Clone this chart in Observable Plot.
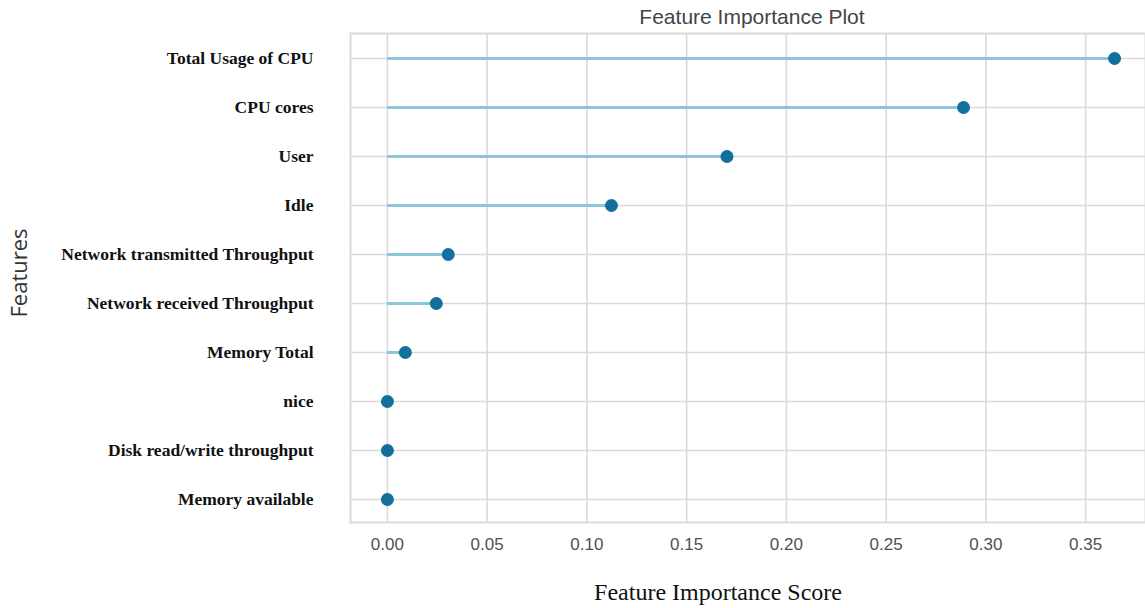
<!DOCTYPE html>
<html>
<head>
<meta charset="utf-8">
<script src="https://cdn.jsdelivr.net/npm/d3@7"></script>
<script src="https://cdn.jsdelivr.net/npm/@observablehq/plot@0.6"></script>
<style>
  html, body { margin: 0; padding: 0; background: #fff; }
  #chart svg { display: block; }
</style>
</head>
<body>
<div id="chart"></div>
<script>
const features = [
  "Total Usage of CPU",
  "CPU cores",
  "User",
  "Idle",
  "Network transmitted Throughput",
  "Network received Throughput",
  "Memory Total",
  "nice",
  "Disk read/write throughput",
  "Memory available"
];
const scores = [0.3645, 0.2888, 0.1702, 0.1123, 0.0305, 0.0245, 0.0090, 0.0, 0.0, 0.0];
const xTicks = [0, 0.05, 0.10, 0.15, 0.20, 0.25, 0.30, 0.35];
const titleText = "Feature Importance Plot";
const xLabelText = "Feature Importance Score";
const yLabelText = "Features";

const data = features.map((f, i) => ({feature: f, value: scores[i]}));

const gridColor = "#dadada";

const chart = Plot.plot({
  width: 1145,
  height: 608,
  marginLeft: 350,
  marginRight: 0,
  marginTop: 33,
  marginBottom: 86,
  style: {background: "#fff", overflow: "visible"},
  x: {domain: [-0.0185, 0.38], ticks: xTicks},
  y: {type: "point", domain: features, range: [57, 500], padding: 0},
  marks: [
    Plot.gridX(xTicks, {stroke: gridColor, strokeOpacity: 1, strokeWidth: 1.6}),
    Plot.gridY(features, {stroke: gridColor, strokeOpacity: 1, strokeWidth: 1.6}),
    Plot.frame({stroke: gridColor, strokeWidth: 2}),
    Plot.axisX(xTicks, {
      tickSize: 0, tickPadding: 15, tickFormat: d3.format(".2f"),
      fontFamily: "Liberation Sans", fontSize: 17, fill: "#505050", label: null
    }),
    Plot.axisY(features, {
      tickSize: 0, tickPadding: 37,
      fontFamily: "Liberation Serif", fontWeight: "bold", fontSize: 17.5, fill: "#111", label: null
    }),
    Plot.ruleY(data, {y: "feature", x1: 0, x2: "value", stroke: "#8cc6dd", strokeWidth: 3}),
    Plot.dot(data, {y: "feature", x: "value", r: 6.5, fill: "#13709c", stroke: null}),
    Plot.text([titleText], {
      frameAnchor: "top", dy: -16, dx: 4, text: d => d, lineAnchor: "middle", textAnchor: "middle",
      fontFamily: "Liberation Sans", fontSize: 21, fill: "#444"
    }),
    Plot.text([xLabelText], {
      frameAnchor: "bottom", dy: 70, dx: -30, text: d => d, lineAnchor: "middle", textAnchor: "middle",
      fontFamily: "Liberation Serif", fontSize: 24, fill: "#111"
    }),
    Plot.text([yLabelText], {
      frameAnchor: "left", dx: -331, dy: -5, text: d => d, rotate: -90, lineAnchor: "middle", textAnchor: "middle",
      fontFamily: "Open Sans", fontSize: 22, fill: "#333"
    })
  ]
});
document.getElementById("chart").appendChild(chart);
</script>
</body>
</html>
